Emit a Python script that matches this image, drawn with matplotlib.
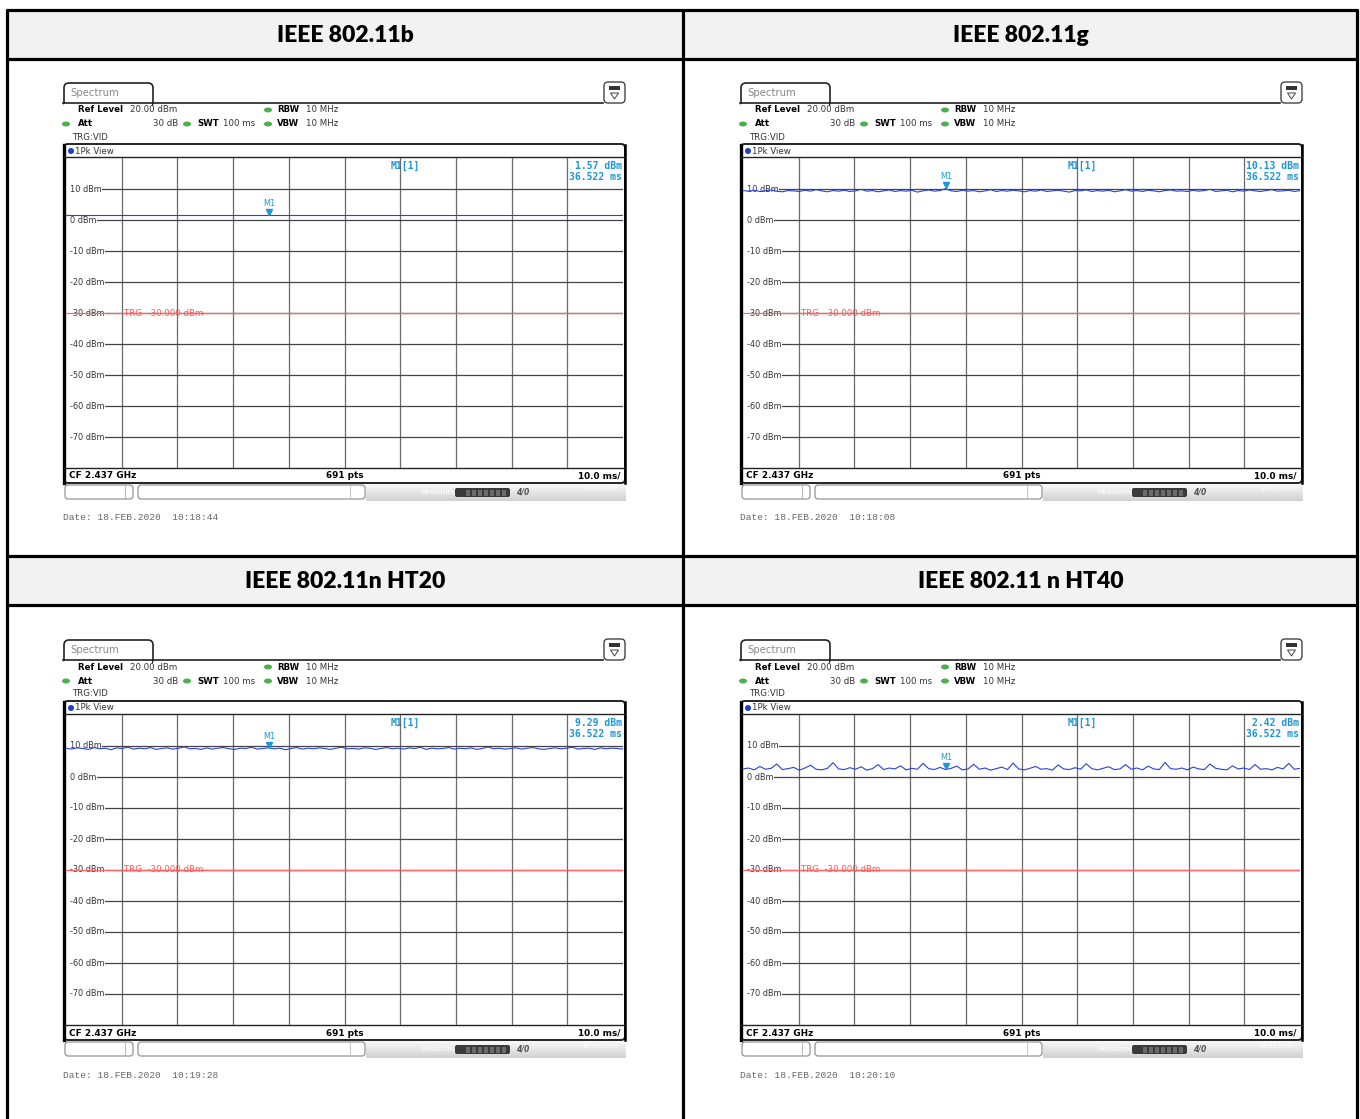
import numpy as np
import matplotlib.pyplot as plt
from matplotlib.patches import Rectangle, FancyBboxPatch, Polygon, Ellipse

# panel titles and readouts
titles = ["IEEE 802.11b", "IEEE 802.11g", "IEEE 802.11n HT20", "IEEE 802.11 n HT40"]
marker_vals = [1.57, 10.13, 9.29, 2.42]
marker_time = 36.522
dates = ["10:18:44", "10:18:08", "10:19:28", "10:20:10"]
trg_level = -30.0

# traces (dBm over the 100 ms sweep)
b_vals = [1.57, 1.57, 1.57, 1.57, 1.57, 1.57, 1.57, 1.57, 1.57, 1.57, 1.57]
g_vals = [9.5, 9.3, 9.6, 9.2, 9.4, 9.7, 9.3, 9.1, 9.5, 9.4,
          9.2, 9.6, 9.3, 9.8, 9.4, 9.1, 9.5, 9.3, 9.6, 9.2,
          9.4, 9.9, 9.3, 9.5, 9.1, 9.4, 9.7, 9.2, 9.5, 9.3,
          9.6, 9.0, 9.4, 9.7, 9.3, 9.5, 10.1, 9.4, 9.2, 9.6,
          9.3, 9.5, 9.1, 9.4, 9.8, 9.2, 9.5, 9.3, 9.6, 9.4,
          9.1, 9.5, 9.3, 9.7, 9.2, 9.4, 9.6, 9.3, 9.0, 9.5,
          9.4, 9.7, 9.2, 9.5, 9.3, 9.6, 9.1, 9.4, 9.8, 9.3,
          9.5, 9.2, 9.6, 9.4, 9.1, 9.5, 9.7, 9.3, 9.4, 9.2,
          9.6, 9.3, 9.5, 9.9, 9.2, 9.4, 9.6, 9.1, 9.5, 9.3,
          9.7, 9.4, 9.2, 9.5, 9.8, 9.3, 9.4, 9.6, 9.2, 9.5]
ht20_vals = [9.3, 9.0, 9.4, 9.2, 8.9, 9.5, 9.1, 9.3, 8.8, 9.4,
             9.2, 9.6, 9.0, 9.3, 9.1, 9.5, 8.9, 9.2, 9.4, 9.0,
             9.3, 9.7, 9.1, 9.2, 8.9, 9.4, 9.0, 9.3, 9.5, 9.1,
             8.9, 9.3, 9.2, 9.6, 9.0, 9.2, 9.4, 9.1, 9.3, 8.8,
             9.2, 9.5, 9.0, 9.3, 9.1, 9.4, 9.2, 8.9, 9.3, 9.6,
             9.1, 9.2, 9.0, 9.4, 9.3, 8.9, 9.2, 9.5, 9.1, 9.3,
             9.0, 9.4, 9.2, 9.6, 8.9, 9.3, 9.1, 9.2, 9.5, 9.0,
             9.3, 9.1, 9.4, 8.9, 9.2, 9.7, 9.1, 9.3, 9.0, 9.2,
             9.4, 9.0, 9.3, 9.5, 9.1, 8.9, 9.2, 9.4, 9.1, 9.3,
             9.6, 9.0, 9.2, 9.3, 8.9, 9.4, 9.1, 9.3, 9.2, 9.0]
ht40_vals = [2.6, 2.9, 2.3, 3.4, 2.5, 2.8, 4.2, 2.4, 2.7, 3.1,
             2.2, 2.9, 3.8, 2.5, 2.3, 2.8, 4.6, 2.6, 2.4, 3.0,
             2.5, 3.3, 2.2, 2.7, 4.0, 2.4, 2.9, 2.6, 3.6, 2.3,
             2.8, 2.5, 4.4, 2.7, 2.4, 3.1, 2.4, 2.8, 3.5, 2.3,
             2.6, 4.1, 2.5, 2.9, 2.2, 2.7, 3.2, 2.4, 4.5, 2.6,
             2.3, 2.8, 3.4, 2.5, 2.7, 2.2, 3.9, 2.6, 2.4, 3.0,
             2.5, 4.3, 2.7, 2.3, 2.8, 3.3, 2.4, 2.6, 4.0, 2.5,
             2.9, 2.3, 3.5, 2.6, 2.4, 4.7, 2.7, 2.5, 2.9, 2.3,
             3.2, 2.6, 2.4, 4.2, 2.8, 2.5, 2.3, 3.6, 2.6, 2.9,
             2.4, 4.0, 2.5, 2.7, 2.3, 3.1, 2.6, 4.4, 2.5, 2.8]
traces = [b_vals, g_vals, ht20_vals, ht40_vals]
levels = [10, 0, -10, -20, -30, -40, -50, -60, -70]

W, H = 1360, 1119
fig = plt.figure(figsize=(13.6, 11.19), dpi=100)
bg = fig.add_axes([0, 0, 1, 1])
bg.set_xlim(0, W)
bg.set_ylim(H, 0)
bg.axis('off')

# table
for y0 in [11, 557]:
    bg.add_patch(Rectangle((8, y0), 1349, 47, fc='#f2f2f2', ec='none'))
for y in [10, 59, 556, 605]:
    bg.plot([6, 1358], [y, y], color='black', lw=2.3, solid_capstyle='butt')
for x in [7, 683, 1357]:
    bg.plot([x, x], [9, H], color='black', lw=2.3, solid_capstyle='butt')
for i, t in enumerate(titles):
    cx = 345 if i % 2 == 0 else 1021
    cy = 36 if i < 2 else 582
    bg.text(cx, cy, t, ha='center', va='center', fontsize=16.5,
            fontweight='heavy', family='Lato')

blue = '#1e96d8'
green = '#4cae4c'
dark = '#222222'


def panel(k, ox, oy):
    def P(x, y):
        return x + ox, y + oy
    # tab and icon
    bg.add_patch(FancyBboxPatch(P(64, 83), 89, 24, boxstyle='round,pad=0,rounding_size=5',
                                fc='white', ec=dark, lw=1.2))
    bg.plot([63 + ox, 603 + ox], [103 + oy, 103 + oy], color=dark, lw=1.2)
    bg.add_patch(Rectangle(P(64, 104), 88, 5, fc='white', ec='none'))
    bg.text(*P(70, 93), 'Spectrum', fontsize=7.3, color='#888888', va='center')
    bg.add_patch(FancyBboxPatch(P(604, 82), 21, 21, boxstyle='round,pad=0,rounding_size=4',
                                fc='white', ec='#444444', lw=1.0))
    bg.add_patch(Rectangle(P(609, 86), 11, 4, fc='#333333', ec='none'))
    bg.add_patch(Polygon([P(610.5, 93), P(618.5, 93), P(614.5, 99)], closed=True,
                         fc='white', ec='#444444', lw=0.7))

    # settings rows
    fs = 6.2
    bg.text(*P(78, 110), 'Ref Level', fontsize=fs, fontweight='bold', va='center')
    bg.text(*P(130, 110), '20.00 dBm', fontsize=fs, va='center', color='#333333')
    bg.text(*P(78, 124), 'Att', fontsize=fs, fontweight='bold', va='center')
    bg.text(*P(178, 124), '30 dB', fontsize=fs, va='center', ha='right', color='#333333')
    bg.text(*P(197, 124), 'SWT', fontsize=fs, fontweight='bold', va='center')
    bg.text(*P(223, 124), '100 ms', fontsize=fs, va='center', color='#333333')
    for yy, lab in [(110, 'RBW'), (124, 'VBW')]:
        bg.text(*P(277, yy), lab, fontsize=fs, fontweight='bold', va='center')
        bg.text(*P(306, yy), '10 MHz', fontsize=fs, va='center', color='#333333')
    for cx, cy in [(268, 110), (66, 124), (187, 124), (268, 124)]:
        bg.add_patch(Ellipse(P(cx, cy), 8, 5, fc=green, ec='none'))
    bg.text(*P(73, 137), 'TRG:VID', fontsize=fs, va='center', color='#333333')

    # screen frame
    bg.add_patch(FancyBboxPatch(P(64, 144), 561, 339, boxstyle='round,pad=0,rounding_size=4',
                                fc='white', ec=dark, lw=1.4, zorder=0))
    bg.plot([64 + ox, 64 + ox], [145 + oy, 483 + oy], color='black', lw=2.4)
    bg.plot([625 + ox, 625 + ox], [145 + oy, 483 + oy], color='black', lw=1.8)
    bg.plot([64 + ox, 625 + ox], [157 + oy, 157 + oy], color=dark, lw=1.0)
    bg.plot([64 + ox, 625 + ox], [468 + oy, 468 + oy], color=dark, lw=1.0)
    bg.add_patch(Ellipse(P(71, 151), 6, 6, fc='#1a3fd6', ec='none'))
    bg.text(*P(75, 151), '1Pk View', fontsize=fs, va='center', color='#333333')
    bg.text(*P(69, 476), 'CF 2.437 GHz', fontsize=6.4, fontweight='bold', va='center')
    bg.text(*P(345, 476), '691 pts', fontsize=6.4, fontweight='bold', va='center', ha='center')
    bg.text(*P(620, 476), '10.0 ms/', fontsize=6.4, fontweight='bold', va='center', ha='right')

    # marker readout
    mono = 'DejaVu Sans Mono'
    bg.text(*P(405, 166), 'M1[1]', fontsize=7, fontweight='bold', color=blue,
            va='center', ha='center', family=mono)
    bg.text(*P(622, 166), '%.2f dBm' % marker_vals[k], fontsize=7, fontweight='bold',
            color=blue, va='center', ha='right', family=mono)
    bg.text(*P(622, 177), '%.3f ms' % marker_time, fontsize=7, fontweight='bold',
            color=blue, va='center', ha='right', family=mono)

    # status bar
    bg.add_patch(FancyBboxPatch(P(65, 485), 68, 14, boxstyle='round,pad=0,rounding_size=3',
                                fc='white', ec='#888888', lw=0.8))
    bg.plot([125 + ox, 125 + ox], [486 + oy, 498 + oy], color='#aaaaaa', lw=0.6)
    bg.add_patch(FancyBboxPatch(P(138, 485), 227, 14, boxstyle='round,pad=0,rounding_size=3',
                                fc='white', ec='#888888', lw=0.8))
    bg.plot([350 + ox, 350 + ox], [486 + oy, 498 + oy], color='#bbbbbb', lw=0.6)
    grad = np.linspace(0.97, 0.82, 20).reshape(-1, 1)
    bg.imshow(grad, extent=(366 + ox, 626 + ox, 501 + oy, 484 + oy), cmap='gray',
              vmin=0, vmax=1, aspect='auto', zorder=1)
    bg.text(*P(420, 492), 'Measuring...', fontsize=5, color='white', va='center', zorder=2)
    bg.add_patch(FancyBboxPatch(P(455, 488), 55, 9, boxstyle='round,pad=0,rounding_size=2',
                                fc='#3a3a3a', ec='none', zorder=2))
    for sx in range(466, 506, 6):
        bg.add_patch(Rectangle(P(sx, 489.5), 4, 6, fc='#6a6a6a', ec='none', zorder=3))
    bg.text(*P(516, 492), '4/0', fontsize=5.5, color='#555555', va='center',
            fontweight='bold', style='italic', zorder=2)
    bg.text(*P(600, 489), '18.02.2020', fontsize=4.5, color='white', va='center',
            ha='center', zorder=2)
    bg.set_xlim(0, W)
    bg.set_ylim(H, 0)

    bg.text(*P(63, 518), 'Date: 18.FEB.2020  ' + dates[k], fontsize=6.8,
            color='#666666', va='center', family='Liberation Mono')

    # measurement grid and trace
    ax = fig.add_axes([(66 + ox) / W, 1 - (468 + oy) / H, 557 / W, 310 / H])
    ax.set_xlim(0, 100)
    ax.set_ylim(-80, 20)
    ax.axis('off')
    ax.patch.set_alpha(0)
    for t in range(10, 100, 10):
        ax.axvline(t, color='#6a6a6a', lw=0.9, zorder=1)
    for lv in levels:
        ax.axhline(lv, xmin=0.012, color='#444444', lw=0.9, zorder=1)
        ax.text(0.7, lv, '%d dBm' % lv, fontsize=5.9, va='center', color='#333333',
                zorder=2, bbox=dict(fc='white', ec='none', pad=0.6))
    vals = traces[k]
    tt = np.linspace(0, 100, len(vals))
    ax.plot(tt, vals, color='#2a3fe0', lw=0.8, zorder=3)
    ax.axhline(trg_level, color='#ff6666', lw=0.9, zorder=4)
    ax.text(10.4, trg_level, 'TRG  %.3f dBm' % trg_level, fontsize=6.2,
            color='#ff5555', va='center', zorder=4)
    ax.plot([marker_time], [marker_vals[k] + 1.1], marker='v', color=blue,
            ms=4.5, zorder=5)
    ax.text(marker_time, marker_vals[k] + 2.4, 'M1', fontsize=5.9, color=blue,
            ha='center', va='bottom', zorder=5)


panel(0, 0, 0)
panel(1, 677, 0)
panel(2, 0, 557)
panel(3, 677, 557)

fig.savefig('out.png', dpi=100)
